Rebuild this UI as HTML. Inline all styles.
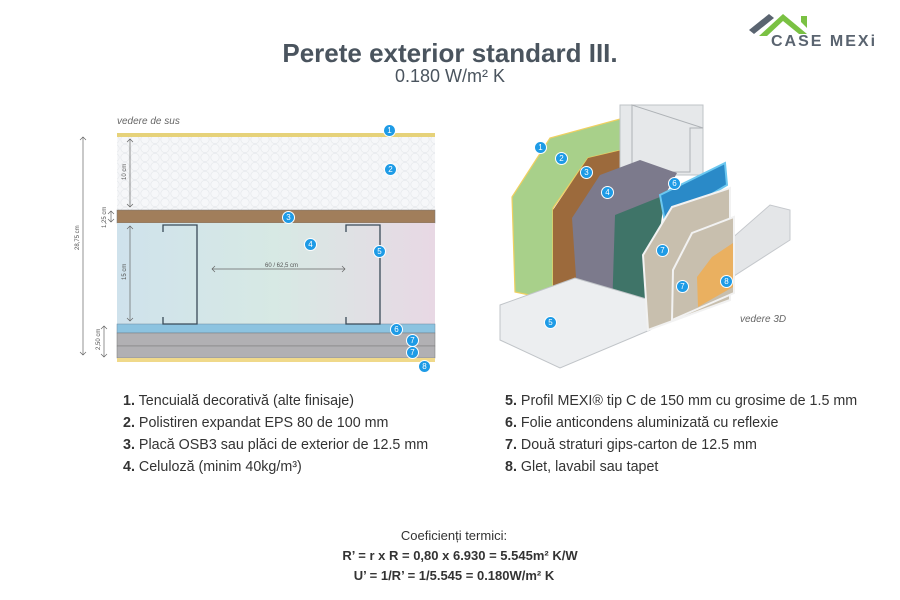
<!DOCTYPE html>
<html><head><meta charset="utf-8"><style>
body{margin:0;background:#fff;font-family:"Liberation Sans",sans-serif;color:#3c4650}
#w{position:relative;width:900px;height:600px;overflow:hidden}
.t{position:absolute;white-space:nowrap}
.n{position:absolute;width:11px;height:11px;border-radius:50%;background:#1e9be6;color:#fff;font-size:8px;line-height:11px;text-align:center;border:1px solid #fff}
.li{position:absolute;font-size:14.3px;color:#333;white-space:nowrap}
.li b{font-weight:bold}
</style></head><body><div id="w">
<div class="t" style="left:0;width:900px;top:38px;text-align:center;font-size:26px;font-weight:bold;color:#4a545e">Perete exterior standard III.</div>
<div class="t" style="left:0;width:900px;top:66px;text-align:center;font-size:18px;color:#4a545e">0.180 W/m² K</div>
<svg class="t" style="left:745px;top:6px" width="155" height="44">
<polygon points="4,24 24,8 29,12 9,28" fill="#5a6470"/><polygon points="14,30 38,8 62,28 54,28 38,15 22,30" fill="#7ac143"/>
<polygon points="56,10 62,10 62,22 56,16" fill="#7ac143"/>
<text x="26" y="40" font-family="Liberation Sans" font-weight="bold" font-size="16" fill="#5a6470" letter-spacing="2">CASE MEXi</text></svg>

<div class="t" style="left:117px;top:116px;font-size:10px;font-style:italic;color:#666">vedere de sus</div>
<svg class="t" style="left:0;top:0" width="900" height="600">
<defs><pattern id="hex" width="10" height="9" patternUnits="userSpaceOnUse"><circle cx="5" cy="4.5" r="4.2" fill="#f6f7f9" stroke="#e3e6ea" stroke-width=".6"/></pattern>
<linearGradient id="cel" x1="0" x2="1"><stop offset="0" stop-color="#cfe2ec"/><stop offset=".5" stop-color="#d7e9e4"/><stop offset="1" stop-color="#e8d8e4"/></linearGradient></defs>
<rect x="117" y="133" width="318" height="4" fill="#e6d27a"/>
<rect x="117" y="137" width="318" height="73" fill="#f5f6f8"/><rect x="117" y="137" width="318" height="73" fill="url(#hex)"/>
<rect x="117" y="210" width="318" height="13" fill="#a17e5b" stroke="#777" stroke-width=".5"/>
<rect x="117" y="223" width="318" height="101" fill="url(#cel)"/>
<rect x="117" y="324" width="318" height="9" fill="#8cc3e0" stroke="#6a8aa0" stroke-width=".5"/>
<rect x="117" y="333" width="318" height="13" fill="#b1b0b3" stroke="#777" stroke-width=".5"/>
<rect x="117" y="346" width="318" height="12" fill="#b1b0b3" stroke="#777" stroke-width=".5"/>
<rect x="117" y="358" width="318" height="4" fill="#f0d98a"/>
<g fill="none" stroke="#3a4a58" stroke-width="1.3">
<path d="M163,232 V225 H197 V324 H163 V317"/><path d="M346,232 V225 H380 V324 H346 V317"/></g>
<g fill="none" stroke="#666" stroke-width=".7">
<path d="M83,137 V355 M80,140 L83,137 86,140 M80,352 L83,355 86,352"/>
<path d="M130,139 V207 M127,142 L130,139 133,142 M127,204 L130,207 133,204"/>
<path d="M130,226 V321 M127,229 L130,226 133,229 M127,318 L130,321 133,318"/>
<path d="M111,211 V222 M108,214 L111,211 114,214 M108,219 L111,222 114,219"/>
<path d="M104,326 V357 M101,329 L104,326 107,329 M101,354 L104,357 107,354"/>
<path d="M212,269 H345 M215,266 L212,269 215,272 M342,266 L345,269 342,272"/></g>
<g font-family="Liberation Sans" font-size="6" fill="#555">
<text transform="translate(79,250) rotate(-90)">28,75 cm</text>
<text transform="translate(126,180) rotate(-90)">10 cm</text>
<text transform="translate(126,280) rotate(-90)">15 cm</text>
<text transform="translate(106,228) rotate(-90)">1,25 cm</text>
<text transform="translate(100,350) rotate(-90)">2,50 cm</text>
<text x="265" y="267">60 / 62,5 cm</text></g>

<polygon points="650,310 770,205 790,210 790,240 650,330" fill="#e4e6e8" stroke="#c5c8cc"/>
<polygon points="512,197 550,138 620,119 622,150 588,158 553,208 553,300 515,292" fill="#a8d08a" stroke="#f0d060" stroke-width="1.2"/>
<polygon points="553,210 588,158 622,150 622,200 580,280 553,292" fill="#9c6a3c"/>
<polygon points="620,105 703,105 703,175 620,175" fill="#e6e8ea" stroke="#bfc3c7"/>
<polygon points="632,105 632,172 690,172 690,128 703,128" fill="none" stroke="#aeb2b6"/>
<polygon points="572,218 600,175 640,160 677,173 665,195 650,240 645,300 612,312 577,292" fill="#7c7a8c"/>
<polygon points="615,215 665,195 650,300 612,312" fill="#3f7468"/>
<polygon points="660,195 725,163 727,185 665,222" fill="#2a8ac8" stroke="#6cc8f0" stroke-width="2"/>
<polygon points="500,305 575,278 650,300 650,330 560,368 500,340" fill="#eceef0" stroke="#c0c4c8"/>
<polygon points="643,255 672,207 730,188 730,300 648,330" fill="#c8bfae" stroke="#f2f2f2" stroke-width="2"/>
<polygon points="672,320 673,270 692,233 734,217 734,293" fill="#c8bfae" stroke="#f2f2f2" stroke-width="2"/>
<polygon points="697,277 712,257 733,243 733,287 698,307" fill="#eab060"/>
<text x="740" y="322" font-family="Liberation Sans" font-size="10" font-style="italic" fill="#666">vedere 3D</text>
</svg>
<div class="n" style="left:383px;top:124px">1</div><div class="n" style="left:384px;top:163px">2</div>
<div class="n" style="left:282px;top:211px">3</div><div class="n" style="left:304px;top:238px">4</div>
<div class="n" style="left:373px;top:245px">5</div><div class="n" style="left:390px;top:323px">6</div>
<div class="n" style="left:406px;top:334px">7</div><div class="n" style="left:406px;top:346px">7</div>
<div class="n" style="left:418px;top:360px">8</div>
<div class="n" style="left:534px;top:141px">1</div><div class="n" style="left:555px;top:152px">2</div>
<div class="n" style="left:580px;top:166px">3</div><div class="n" style="left:601px;top:186px">4</div>
<div class="n" style="left:544px;top:316px">5</div><div class="n" style="left:668px;top:177px">6</div>
<div class="n" style="left:656px;top:244px">7</div><div class="n" style="left:676px;top:280px">7</div>
<div class="n" style="left:720px;top:275px">8</div>

<div class="li" style="left:123px;top:393px"><b>1.</b> Tencuială decorativă (alte finisaje)</div>
<div class="li" style="left:123px;top:415px"><b>2.</b> Polistiren expandat EPS 80 de 100 mm</div>
<div class="li" style="left:123px;top:437px"><b>3.</b> Placă OSB3 sau plăci de exterior de 12.5 mm</div>
<div class="li" style="left:123px;top:459px"><b>4.</b> Celuloză (minim 40kg/m³)</div>
<div class="li" style="left:505px;top:393px"><b>5.</b> Profil MEXI® tip C de 150 mm cu grosime de 1.5 mm</div>
<div class="li" style="left:505px;top:415px"><b>6.</b> Folie anticondens aluminizată cu reflexie</div>
<div class="li" style="left:505px;top:437px"><b>7.</b> Două straturi gips-carton de 12.5 mm</div>
<div class="li" style="left:505px;top:459px"><b>8.</b> Glet, lavabil sau tapet</div>

<div class="t" style="left:0;width:908px;top:528px;text-align:center;font-size:13px;color:#333">Coeficienți termici:</div>
<div class="t" style="left:0;width:920px;top:548px;text-align:center;font-size:13px;font-weight:bold;color:#333">R’ = r x R = 0,80 x 6.930 = 5.545m² K/W</div>
<div class="t" style="left:0;width:908px;top:568px;text-align:center;font-size:13px;font-weight:bold;color:#333">U’ = 1/R’ = 1/5.545 = 0.180W/m² K</div>
</div></body></html>
